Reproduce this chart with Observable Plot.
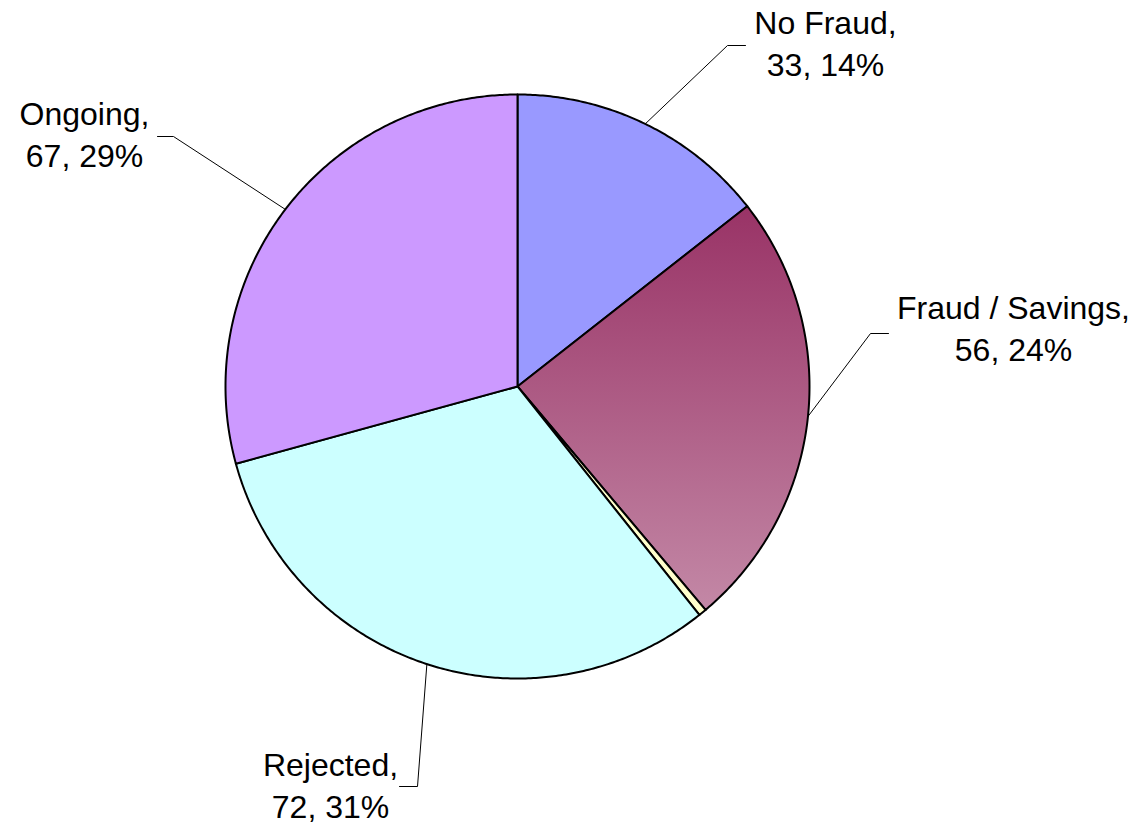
<!DOCTYPE html>
<html>
<head>
<meta charset="utf-8">
<script src="https://cdn.jsdelivr.net/npm/d3@7"></script>
<script src="https://cdn.jsdelivr.net/npm/@observablehq/plot@0.6"></script>
<style>
  html, body { margin: 0; padding: 0; background: #ffffff; }
  #chart svg { display: block; }
</style>
</head>
<body>
<div id="chart"></div>
<script>
// ---- data ----
const categories = ["No Fraud", "Fraud / Savings", "Other", "Rejected", "Ongoing"];
const counts = [33, 56, 1, 72, 67];
const showLabel = [true, true, false, true, true];

// ---- styles / layout ----
const sliceFill = {
  "No Fraud": "#9999ff",
  "Fraud / Savings": "url(#fraudGrad)",
  "Other": "#ffffcc",
  "Rejected": "#ccffff",
  "Ongoing": "#cc99ff"
};
const W = 1140, H = 827;
const cx = 517, cy = 386, R = 292;
// label block position (centre x, top y) and leader elbow points
const labelLayout = {
  "No Fraud":        { x: 825,  y: 4,   elbow: [[745, 45], [727, 45]] },
  "Fraud / Savings": { x: 1013, y: 289, elbow: [[888, 333], [870, 333]] },
  "Rejected":        { x: 330,  y: 746, elbow: [[399, 786], [417, 786]] },
  "Ongoing":         { x: 84,   y: 95,  elbow: [[157, 136], [173, 136]] }
};

const total = d3.sum(counts);
const data = categories.map((c, i) => ({ name: c, value: counts[i], show: showLabel[i] }));
const arcs = d3.pie().sort(null).value(d => d.value).startAngle(0).endAngle(2 * Math.PI)(data);

const pt = a => ({ x: cx + R * Math.sin(a), y: cy - R * Math.cos(a) });

const sliceMarks = arcs.map(a => {
  const pts = [{ x: cx, y: cy }];
  const n = Math.max(2, Math.ceil((a.endAngle - a.startAngle) / (Math.PI / 360)));
  for (let k = 0; k <= n; k++) pts.push(pt(a.startAngle + (a.endAngle - a.startAngle) * k / n));
  pts.push({ x: cx, y: cy });
  return Plot.line(pts, { x: "x", y: "y", fill: sliceFill[a.data.name], stroke: "#000", strokeWidth: 2, strokeLinejoin: "round" });
});

const leaderMarks = arcs.filter(a => a.data.show).map(a => {
  const L = labelLayout[a.data.name];
  const mid = (a.startAngle + a.endAngle) / 2;
  const pts = L.elbow.map(([x, y]) => ({ x, y })).concat([pt(mid)]);
  return Plot.line(pts, { x: "x", y: "y", stroke: "#000", strokeWidth: 1 });
});

const labels = arcs.filter(a => a.data.show).map(a => ({
  x: labelLayout[a.data.name].x,
  y: labelLayout[a.data.name].y,
  text: `${a.data.name},\n${a.data.value}, ${Math.round(a.data.value / total * 100)}%`
}));

const chart = Plot.plot({
  width: W,
  height: H,
  margin: 0,
  x: { domain: [0, W], range: [0, W], axis: null },
  y: { domain: [0, H], range: [0, H], axis: null },
  style: { background: "#ffffff", fontFamily: "'Liberation Sans', Arial, sans-serif" },
  marks: [
    ...sliceMarks,
    ...leaderMarks,
    Plot.text(labels, {
      x: "x", y: "y", text: "text",
      textAnchor: "middle", lineAnchor: "top", lineHeight: 1.31,
      fontSize: 32, fill: "#000",
      fontFamily: "'Liberation Sans', Arial, sans-serif"
    })
  ]
});

const defs = d3.select(chart).insert("defs", ":first-child");
const g = defs.append("linearGradient").attr("id", "fraudGrad")
  .attr("x1", 0).attr("y1", 0).attr("x2", 0).attr("y2", 1);
g.append("stop").attr("offset", "0%").attr("stop-color", "#993366");
g.append("stop").attr("offset", "100%").attr("stop-color", "#c388a6");

document.getElementById("chart").appendChild(chart);
</script>
</body>
</html>
